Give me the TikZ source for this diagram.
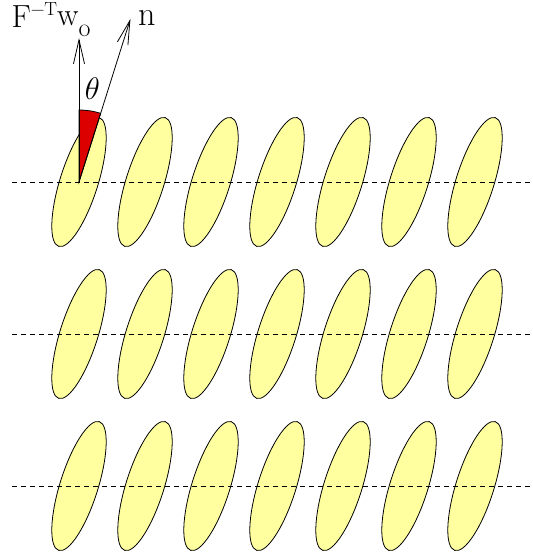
\documentclass[tikz,border=0pt]{standalone}
\usepackage{fontspec}
\usepackage{graphicx}
\usetikzlibrary{arrows.meta,shapes.geometric,calc}
\definecolor{lightyel}{RGB}{255,255,160}
\definecolor{wedgered}{RGB}{221,0,0}
\begin{document}
\begin{tikzpicture}[x=1pt,y=1pt,
  grain/.style={draw=black, line width=0.8pt, fill=lightyel, ellipse, inner sep=0pt, outer sep=0pt,
    minimum width=135pt, minimum height=38pt, rotate=72.5},
  axisline/.style={draw=black, line width=0.8pt, dash pattern=on 4.5pt off 4.5pt},
  vecarrow/.style={draw=black, line width=0.8pt, -{Straight Barb[length=24pt,width=11pt,line width=0.8pt]}},
  lbl/.style={inner sep=0pt, outer sep=0pt}]
\useasboundingbox (0,0) rectangle (532,556);
% ellipses
\foreach \r/\yy in {1/374,2/222,3/70}{
  \foreach \c in {0,...,6}{
    \node[grain] (e\r\c) at ({79+66*\c},\yy) {};
  }
}
% centre of the first grain
\coordinate (o) at (79,374);
% red wedge
\filldraw[fill=wedgered, draw=black, line width=0.8pt] (o) -- ++(90:72) arc[start angle=90, end angle=72.5, radius=72] -- cycle;
% dashed lines
\foreach \r/\yy in {1/374,2/222,3/70}{
  \coordinate (l\r) at (12,\yy);
  \coordinate (r\r) at (532,\yy);
  \draw[axisline] (l\r) -- (r\r);
}
% arrows
\coordinate (fw) at (79,518);
\coordinate (nn) at ($(o)+(72.5:171)$);
\draw[vecarrow] (o) -- (fw);
\draw[vecarrow] (o) -- (nn);
% labels
\node[lbl, anchor=base west] (flab) at (11.5,528) {{\fontsize{32}{32}\selectfont F}\raisebox{12pt}{\fontsize{19}{19}\selectfont −T}\raisebox{2pt}{\fontsize{32}{32}\selectfont w}\raisebox{-9pt}{\fontsize{26}{26}\selectfont o}};
\node[lbl, anchor=base west] (nlab) at (138,530) {\fontsize{34}{34}\selectfont n};
\node[lbl] (thlab) at (92.5,467) {\scalebox{1.5}{\fontsize{20.74}{20}\selectfont $\theta$}};
\end{tikzpicture}
\end{document}
